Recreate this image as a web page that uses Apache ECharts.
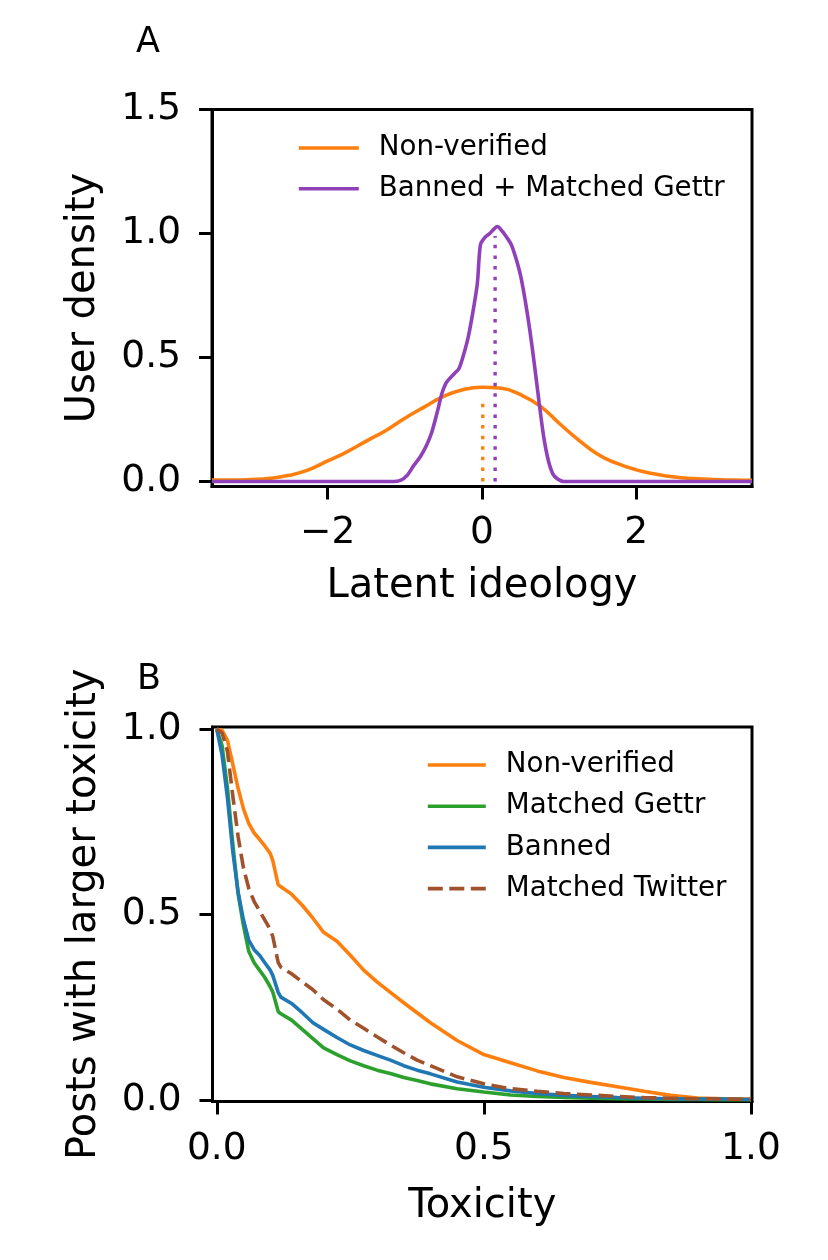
<!DOCTYPE html>
<html><head><meta charset="utf-8">
<script src="https://cdn.jsdelivr.net/npm/echarts@6/dist/echarts.min.js"></script>
<style>html,body{margin:0;padding:0;background:#fff}#c{width:828px;height:1260px}</style>
</head><body><div id="c"></div>
<script>
// ---------- Panel A: latent ideology densities ----------
const ideologyX = [-3.5,-3.25,-3.0,-2.75,-2.5,-2.25,-2.0,-1.75,-1.5,-1.25,-1.0,-0.75,-0.5,-0.25,0,0.25,0.5,0.75,1.0,1.25,1.5,1.75,2.0,2.25,2.5,2.75,3.0,3.25,3.5];
const nonVerifiedDensity = [0.006,0.006,0.008,0.013,0.025,0.047,0.083,0.12,0.163,0.205,0.255,0.30,0.343,0.37,0.38,0.376,0.35,0.305,0.235,0.168,0.11,0.073,0.047,0.03,0.018,0.012,0.008,0.006,0.005];
const bannedGettrX = [-3.5,-1.15,-1.05,-0.97,-0.89,-0.8,-0.72,-0.65,-0.58,-0.52,-0.47,-0.42,-0.36,-0.3,-0.24,-0.18,-0.12,-0.06,-0.02,0.04,0.1,0.16,0.2,0.26,0.32,0.38,0.44,0.5,0.56,0.62,0.68,0.74,0.8,0.86,0.92,0.98,1.06,3.5];
const bannedGettrDensity = [0,0,0.006,0.025,0.062,0.10,0.145,0.2,0.28,0.355,0.395,0.415,0.435,0.455,0.51,0.58,0.68,0.80,0.955,0.985,1.0,1.02,1.028,1.01,0.985,0.955,0.9,0.83,0.73,0.61,0.47,0.32,0.18,0.085,0.03,0.01,0,0];
const medianX = [0.01, 0.17];
const medianTop = [0.34, 0.99];
const ideologyTicks = [-2, 0, 2];
const densityTicks = [0, 0.5, 1.0, 1.5];

// ---------- Panel B: complementary CDF of toxicity ----------
const toxicityX = [0,0.01,0.02,0.03,0.04,0.05,0.06,0.07,0.08,0.09,0.1,0.105,0.115,0.12,0.14,0.16,0.18,0.2,0.225,0.25,0.275,0.3,0.325,0.35,0.375,0.4,0.45,0.5,0.55,0.6,0.65,0.7,0.75,0.8,0.85,0.9,0.95,1.0];
const toxNonVerified = [1.0,0.997,0.97,0.905,0.84,0.785,0.745,0.72,0.703,0.685,0.665,0.645,0.58,0.575,0.555,0.525,0.49,0.452,0.428,0.39,0.35,0.318,0.29,0.262,0.235,0.208,0.16,0.122,0.1,0.078,0.06,0.047,0.035,0.023,0.012,0.005,0.003,0.002];
const toxMatchedGettr = [1.0,0.955,0.84,0.69,0.555,0.47,0.40,0.37,0.35,0.33,0.305,0.29,0.238,0.232,0.215,0.19,0.165,0.14,0.122,0.105,0.092,0.08,0.071,0.06,0.052,0.043,0.03,0.021,0.013,0.009,0.006,0.004,0.003,0.002,0.001,0.001,0.0005,0];
const toxBanned = [1.0,0.93,0.815,0.67,0.56,0.485,0.43,0.405,0.39,0.37,0.35,0.335,0.29,0.277,0.26,0.235,0.208,0.19,0.168,0.148,0.133,0.12,0.107,0.092,0.08,0.07,0.048,0.034,0.024,0.017,0.012,0.009,0.006,0.004,0.003,0.002,0.002,0.001];
const toxMatchedTwitter = [1.0,0.99,0.94,0.82,0.71,0.625,0.57,0.535,0.51,0.485,0.46,0.44,0.37,0.358,0.34,0.318,0.297,0.27,0.245,0.215,0.193,0.17,0.148,0.127,0.107,0.092,0.062,0.043,0.03,0.023,0.017,0.013,0.009,0.006,0.004,0.003,0.002,0.001];
const toxicityTicks = [0, 0.5, 1.0];
const fractionTicks = [0, 0.5, 1.0];

const FONT = 'DejaVu Sans';
const pairs = (xs, ys) => xs.map((x, i) => [x, ys[i]]);
const minus = v => (v < 0 ? '\u2212' + Math.abs(v) : String(v));
const fix1 = v => v.toFixed(1);

function valueAxis(gridIndex, min, max, ticks, fmt, name, nameGap, labelMargin) {
  return {
    type: 'value', gridIndex, min, max,
    name, nameLocation: 'middle', nameGap,
    nameTextStyle: { fontFamily: FONT, fontSize: 40, color: '#000' },
    axisLine: { show: true, onZero: false, lineStyle: { color: '#000', width: 3 } },
    axisTick: { show: true, length: 13, lineStyle: { color: '#000', width: 3 }, customValues: ticks },
    axisLabel: { show: true, margin: labelMargin, fontFamily: FONT, fontSize: 37.5, color: '#000', customValues: ticks, formatter: fmt },
    splitLine: { show: false }
  };
}

const chart = echarts.init(document.getElementById('c'), null, { renderer: 'canvas' });
const lw = 3.6;
const legendText = { fontFamily: FONT, fontSize: 27.7, color: '#000', lineHeight: 30, padding: [0, 0, 0, 15] };
chart.setOption({
  animation: false,
  backgroundColor: '#fff',
  title: [
    { text: 'A', left: 131, top: 20, textStyle: { fontFamily: FONT, fontSize: 35, fontWeight: 'normal', color: '#000' } },
    { text: 'B', left: 132, top: 657, textStyle: { fontFamily: FONT, fontSize: 35, fontWeight: 'normal', color: '#000' } }
  ],
  grid: [
    { left: 212, top: 109.5, width: 540, height: 377, show: true, borderColor: '#000', borderWidth: 3, backgroundColor: 'transparent' },
    { left: 212.5, top: 727, width: 539.5, height: 374.5, show: true, borderColor: '#000', borderWidth: 3, backgroundColor: 'transparent' }
  ],
  xAxis: [
    valueAxis(0, -3.5, 3.5, ideologyTicks, minus, 'Latent ideology', 80, 28),
    valueAxis(1, -0.008, 1.002, toxicityTicks, fix1, 'Toxicity', 85, 29)
  ],
  yAxis: [
    valueAxis(0, -0.02, 1.5, densityTicks, fix1, 'User density', 108, 31),
    valueAxis(1, -0.0046, 1.006, fractionTicks, fix1, 'Posts with larger toxicity', 108, 31)
  ],
  legend: [
    { data: ['Non-verified', 'Banned + Matched Gettr'], orient: 'vertical', left: 292, top: 128,
      itemWidth: 60, itemHeight: 14, itemGap: 10.7, itemStyle: { opacity: 0 }, lineStyle: { width: lw },
      textStyle: legendText },
    { data: ['Non-verified', 'Matched Gettr', 'Banned', 'Matched Twitter'], orient: 'vertical', left: 421, top: 745,
      itemWidth: 58, itemHeight: 14, itemGap: 11.2, itemStyle: { opacity: 0 }, lineStyle: { width: lw },
      textStyle: legendText }
  ],
  series: [
    { name: 'Non-verified', type: 'line', xAxisIndex: 0, yAxisIndex: 0, data: pairs(ideologyX, nonVerifiedDensity),
      showSymbol: false, symbol: 'none', smooth: 0.5, color: '#ff7f0e', lineStyle: { width: lw } },
    { name: 'Banned + Matched Gettr', type: 'line', xAxisIndex: 0, yAxisIndex: 0, data: pairs(bannedGettrX, bannedGettrDensity),
      showSymbol: false, symbol: 'none', smooth: 0.3, color: '#9040b8', lineStyle: { width: lw } },
    { name: 'median-nonverified', type: 'line', xAxisIndex: 0, yAxisIndex: 0, data: [[medianX[0], 0], [medianX[0], medianTop[0]]],
      showSymbol: false, symbol: 'none', color: '#ff7f0e', lineStyle: { width: 3.4, type: [3.5, 7.1] } },
    { name: 'median-banned', type: 'line', xAxisIndex: 0, yAxisIndex: 0, data: [[medianX[1], 0], [medianX[1], medianTop[1]]],
      showSymbol: false, symbol: 'none', color: '#9040b8', lineStyle: { width: 3.4, type: [3.5, 7.1] } },

    { name: 'Non-verified', type: 'line', xAxisIndex: 1, yAxisIndex: 1, data: pairs(toxicityX, toxNonVerified),
      showSymbol: false, symbol: 'none', color: '#ff7f0e', lineStyle: { width: lw } },
    { name: 'Matched Gettr', type: 'line', xAxisIndex: 1, yAxisIndex: 1, data: pairs(toxicityX, toxMatchedGettr),
      showSymbol: false, symbol: 'none', color: '#2ca02c', lineStyle: { width: lw } },
    { name: 'Banned', type: 'line', xAxisIndex: 1, yAxisIndex: 1, data: pairs(toxicityX, toxBanned),
      showSymbol: false, symbol: 'none', color: '#1f77b4', lineStyle: { width: lw } },
    { name: 'Matched Twitter', type: 'line', xAxisIndex: 1, yAxisIndex: 1, data: pairs(toxicityX, toxMatchedTwitter),
      showSymbol: false, symbol: 'none', color: '#a0522d', lineStyle: { width: lw, type: [15, 6.5] } }
  ]
});
</script></body></html>
